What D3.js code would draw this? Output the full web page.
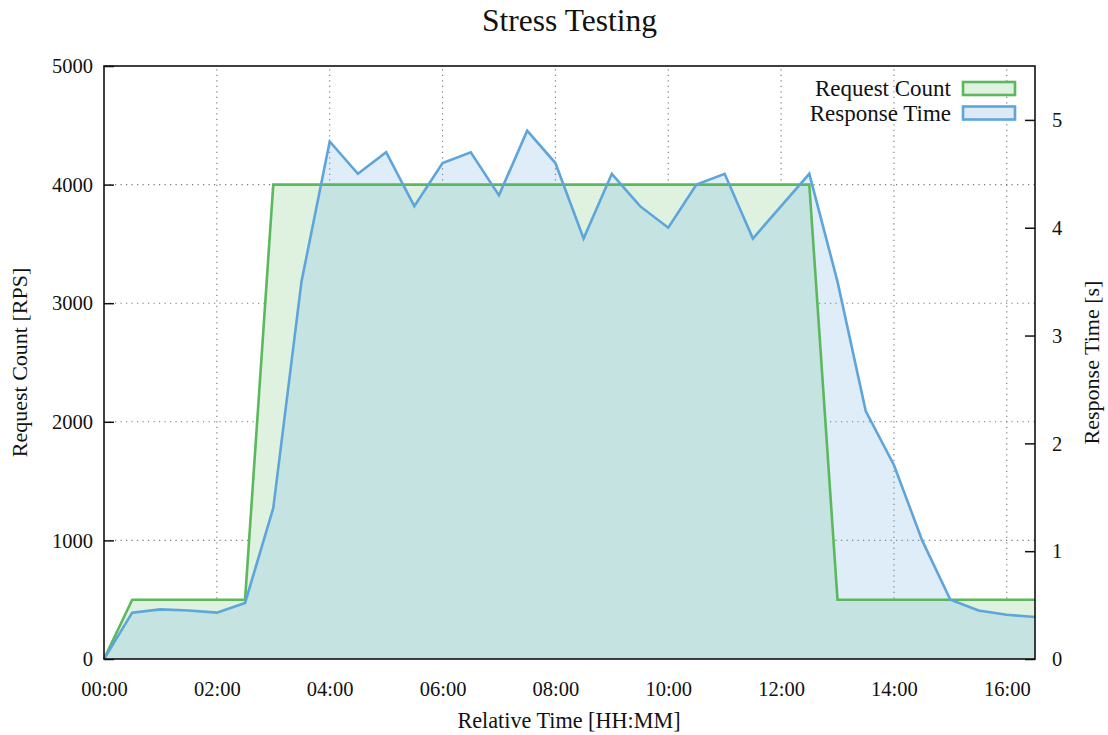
<!DOCTYPE html>
<html>
<head>
<meta charset="utf-8">
<script src="https://cdn.jsdelivr.net/npm/d3@7"></script>
<style>
  html, body { margin: 0; padding: 0; background: #fff; }
  svg text { font-family: "Liberation Serif", "Times New Roman", serif; fill: #111; }
</style>
</head>
<body>
<svg id="chart" width="1108" height="735"></svg>
<script>
// ---- data ----
const times = [0, 0.5, 1, 1.5, 2, 2.5, 3, 3.5, 4, 4.5, 5, 5.5, 6, 6.5, 7, 7.5, 8, 8.5,
               9, 9.5, 10, 10.5, 11, 11.5, 12, 12.5, 13, 13.5, 14, 14.5, 15, 15.5, 16, 16.5];
const requestCount = [0, 500, 500, 500, 500, 500, 4000, 4000, 4000, 4000, 4000, 4000, 4000, 4000,
                      4000, 4000, 4000, 4000, 4000, 4000, 4000, 4000, 4000, 4000, 4000, 4000,
                      500, 500, 500, 500, 500, 500, 500, 500];
const responseTime = [0, 0.43, 0.46, 0.45, 0.43, 0.52, 1.40, 3.5, 4.8, 4.5, 4.7, 4.2, 4.6, 4.7,
                      4.3, 4.9, 4.6, 3.9, 4.5, 4.2, 4.0, 4.4, 4.5, 3.9, 4.2, 4.5,
                      3.5, 2.3, 1.8, 1.1, 0.55, 0.45, 0.41, 0.39];
const xTicks = [0, 2, 4, 6, 8, 10, 12, 14, 16];
const leftTicks = [0, 1000, 2000, 3000, 4000, 5000];
const rightTicks = [0, 1, 2, 3, 4, 5];
const seriesNames = ["Request Count", "Response Time"];
const titleText = "Stress Testing";
const xLabel = "Relative Time [HH:MM]";
const yLeftLabel = "Request Count [RPS]";
const yRightLabel = "Response Time [s]";

// ---- layout ----
const L = 104, R = 1035, T = 66, B = 659;
const green = "#5cb85c", blue = "#5da5da";
const greenFill = "#dff1df", tealFill = "#c5e3e1", blueFillRGBA = "rgba(93,165,218,0.2)";

const svg = d3.select("#chart");
const x = d3.scaleLinear().domain([0, 16.5]).range([L, R]);
const yL = d3.scaleLinear().domain([0, 5000]).range([B, T]);
const yR = d3.scaleLinear().domain([0, 5.5]).range([B, T]);

const fmt = h => {
  const hh = Math.floor(h), mm = Math.round((h - hh) * 60);
  return String(hh).padStart(2, "0") + ":" + String(mm).padStart(2, "0");
};

// grid
const grid = svg.append("g").attr("stroke", "#777").attr("stroke-width", 1.1)
  .attr("stroke-dasharray", "1.2,4.3");
xTicks.filter(t => t > 0).forEach(t => {
  grid.append("line").attr("x1", x(t)).attr("x2", x(t)).attr("y1", B).attr("y2", T);
});
leftTicks.filter(t => t > 0 && t < 5000).forEach(t => {
  grid.append("line").attr("x1", L).attr("x2", R).attr("y1", yL(t)).attr("y2", yL(t));
});

// axes with inward ticks (drawn before fills)
const axL = svg.append("g").attr("transform", `translate(${L},0)`)
  .call(d3.axisLeft(yL).tickValues(leftTicks).tickFormat(d3.format("d"))
    .tickSizeInner(-10).tickSizeOuter(0).tickPadding(11));
const axR = svg.append("g").attr("transform", `translate(${R},0)`)
  .call(d3.axisRight(yR).tickValues(rightTicks).tickFormat(d3.format("d"))
    .tickSizeInner(-10).tickSizeOuter(0).tickPadding(17));
const axB = svg.append("g").attr("transform", `translate(0,${B})`)
  .call(d3.axisBottom(x).tickValues(xTicks).tickFormat(fmt).tickSize(0).tickPadding(22));
[axL, axR, axB].forEach(a => {
  a.select(".domain").remove();
  a.selectAll(".tick line").attr("stroke", "#111").attr("stroke-width", 1.5);
  a.selectAll("text").style("font-size", "20.5px").attr("fill", "#111");
});
axL.selectAll(".tick text").attr("dy", "0.33em");
axR.selectAll(".tick text").attr("dy", "0.33em").attr("text-anchor", "start");
axB.selectAll(".tick text").attr("dy", "0.72em");

// areas
const areaReq = d3.area().x((d, i) => x(times[i])).y0(B).y1(d => yL(d));
const areaResp = d3.area().x((d, i) => x(times[i])).y0(B).y1(d => yR(d));
const lineReq = d3.line().x((d, i) => x(times[i])).y(d => yL(d));
const lineResp = d3.line().x((d, i) => x(times[i])).y(d => yR(d));

svg.append("defs").append("clipPath").attr("id", "reqClip")
  .append("path").attr("d", areaReq(requestCount));

svg.append("path").attr("d", areaResp(responseTime)).attr("fill", blueFillRGBA);
svg.append("path").attr("d", areaReq(requestCount)).attr("fill", greenFill);
svg.append("path").attr("d", areaResp(responseTime)).attr("fill", tealFill)
  .attr("clip-path", "url(#reqClip)");

svg.append("path").attr("d", lineReq(requestCount)).attr("fill", "none")
  .attr("stroke", green).attr("stroke-width", 2.6).attr("stroke-linejoin", "miter");
svg.append("path").attr("d", lineResp(responseTime)).attr("fill", "none")
  .attr("stroke", blue).attr("stroke-width", 2.6).attr("stroke-linejoin", "miter");

// frame
svg.append("rect").attr("x", L).attr("y", T).attr("width", R - L).attr("height", B - T)
  .attr("fill", "none").attr("stroke", "#111").attr("stroke-width", 1.6);

// legend
const legend = svg.append("g");
const legendItems = [
  { name: seriesNames[0], stroke: green, fill: greenFill },
  { name: seriesNames[1], stroke: blue, fill: "#dde9f5" }
];
legendItems.forEach((it, i) => {
  const cy = 88.5 + i * 24.5;
  legend.append("text").attr("x", 951).attr("y", cy).attr("dy", "0.33em")
    .attr("text-anchor", "end").style("font-size", "23px").text(it.name);
  legend.append("rect").attr("x", 963).attr("y", cy - 6.5).attr("width", 52).attr("height", 13)
    .attr("fill", it.fill).attr("stroke", it.stroke).attr("stroke-width", 2.6);
});

// titles
svg.append("text").attr("x", 569.5).attr("y", 31).attr("text-anchor", "middle")
  .style("font-size", "31.5px").text(titleText);
svg.append("text").attr("x", 569).attr("y", 728).attr("text-anchor", "middle")
  .style("font-size", "22.2px").text(xLabel);
svg.append("text").attr("transform", `translate(27,${(T + B) / 2}) rotate(-90)`)
  .attr("text-anchor", "middle").style("font-size", "22px").text(yLeftLabel);
svg.append("text").attr("transform", `translate(1099,${(T + B) / 2}) rotate(-90)`)
  .attr("text-anchor", "middle").style("font-size", "22px").text(yRightLabel);
</script>
</body>
</html>
